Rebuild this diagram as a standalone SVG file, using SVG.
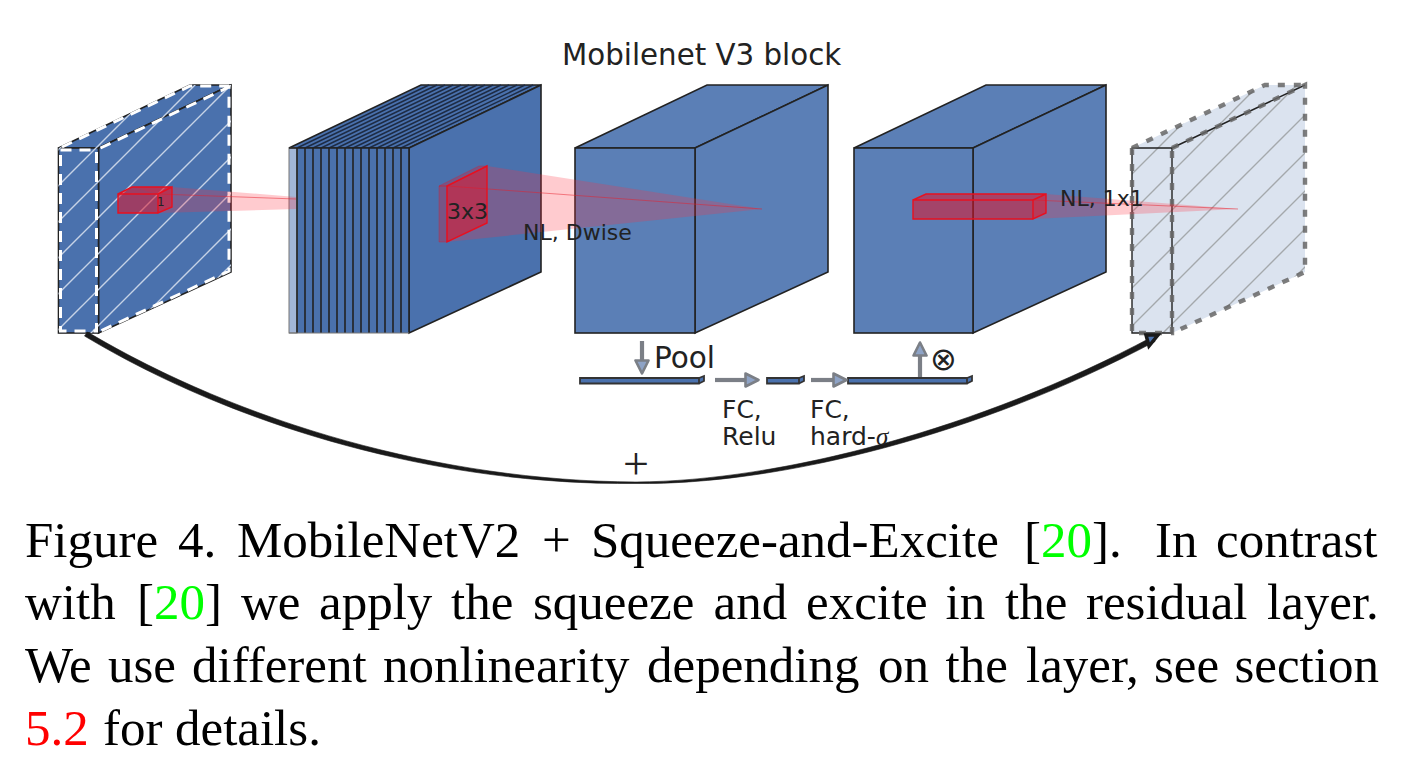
<svg xmlns="http://www.w3.org/2000/svg" width="1406" height="777" viewBox="0 0 1406 777">
<style>
.d{font-family:"DejaVu Sans",sans-serif;fill:#222}
.c{font-family:"Liberation Serif",serif;font-size:51px;fill:#000}
.edge{stroke:#222;stroke-width:1.6;stroke-linejoin:miter}
.blue{fill:#4a71ad}.mid{fill:#5b7fb6}.pale{fill:#dbe3ef}
.wd{fill:none;stroke:#fff;stroke-width:3;stroke-dasharray:11 8}
.gd{fill:none;stroke:#666;stroke-width:4.400;stroke-dasharray:7 9;stroke-opacity:.85}
.ray{fill:#ff3040;fill-opacity:.25;stroke:none}
.rl{fill:none;stroke:#e8202c;stroke-width:1;stroke-opacity:.5}
.rb{fill:#e0142a;fill-opacity:.55;stroke:#e8101f;stroke-width:1.4}
.ga{fill:none;stroke:#7b7f86;stroke-width:4.200}
.bar{fill:#4a71ad;stroke:#333;stroke-width:1.800}
</style>
<defs>
<pattern id="hw" patternUnits="userSpaceOnUse" width="36" height="36" patternTransform="translate(28 0)"><path d="M-4 40L40 -4M-4 4L4 -4M32 40L40 32" stroke="#c6d2e6" stroke-width="1.400"/></pattern>
<pattern id="hg" patternUnits="userSpaceOnUse" width="38" height="38" patternTransform="translate(14 0)"><path d="M-4 42L42 -4M-4 4L4 -4M34 42L42 34" stroke="#a4a8ac" stroke-width="1.400"/></pattern>
<marker id="gh" viewBox="0 0 16 16" refX="1" refY="8" markerWidth="16" markerHeight="16" markerUnits="userSpaceOnUse" orient="auto"><path d="M1.500 1.500L14.500 8L1.500 14.500Z" fill="#8ea3c6" stroke="#7b7f86" stroke-width="2.600" stroke-linejoin="round"/></marker>
</defs>
<rect width="1406" height="777" fill="#fff"/>

<g id="block-input">
<path class="blue edge" d="M58.500 148L190 85H231L98.500 148Z"/>
<path class="blue edge" d="M98.500 148L231 85V272L98.500 333Z"/>
<rect class="blue edge" x="58.500" y="148" width="40" height="185"/>
<path fill="url(#hw)" d="M58.500 148L190 85H231V272L98.500 333H58.500Z"/>
<path class="wd" d="M60.500 150H96.500V331H60.500ZM100.500 148L229 87V271L100.500 331M62 147L190 86H229"/>
</g>
<g id="block-expansion">
<path class="blue edge" d="M289 148L421 85H541L409 148Z"/>
<path fill="none" stroke="#1d2b44" stroke-width="1.400" d="M297 148L429 85M305 148L437 85M313 148L445 85M321 148L453 85M329 148L461 85M337 148L469 85M345 148L477 85M353 148L485 85M361 148L493 85M369 148L501 85M377 148L509 85M385 148L517 85M393 148L525 85M401 148L533 85"/>
<path class="blue edge" d="M409 148L541 85V272L409 333Z"/>
<rect x="289" y="148" width="120" height="185" class="blue"/>
<rect x="289" y="148" width="8" height="185" fill="#a3b7d8" stroke="#777" stroke-width="1"/>
<path fill="none" class="edge" d="M297 148V333M305 148V333M313 148V333M321 148V333M329 148V333M337 148V333M345 148V333M353 148V333M361 148V333M369 148V333M377 148V333M385 148V333M393 148V333M401 148V333M409 148V333M289 148H409"/>
<path fill="none" stroke="#777" stroke-width="1.200" d="M289 333H409"/>
</g>
<g id="block-dwise">
<path class="mid edge" d="M575 148L707 85H828L695 148Z"/>
<path class="mid edge" d="M695 148L828 85V272L695 333Z"/>
<rect class="mid edge" x="575" y="148" width="120" height="185"/>
</g>
<g id="block-se">
<path class="mid edge" d="M854 148L986 85H1106L973 148Z"/>
<path class="mid edge" d="M973 148L1106 85V272L973 333Z"/>
<rect class="mid edge" x="854" y="148" width="119" height="185"/>
</g>
<g id="block-output">
<path class="pale" d="M1132 148L1265 85H1305L1172 148Z"/>
<path class="pale" d="M1172 148L1305 85V272L1172 333Z"/>
<rect class="pale" x="1132" y="148" width="40" height="185"/>
<path fill="url(#hg)" d="M1132 148L1265 85H1305V272L1172 333H1132Z"/>
<path fill="none" stroke="#222" stroke-width="1.400" d="M1132 148H1172V333H1132ZM1172 148L1305 85"/>
<path class="gd" d="M1132 148V333H1172V148M1172 148L1305 85V272L1172 333M1132 148L1265 85H1305"/>
</g>

<g id="rays">
<path class="ray" d="M158 194L132 187H172L296 197V209L158 213Z"/>
<path class="rl" d="M158 194L296 199"/>
<path class="rb" d="M118 194H158V213H118ZM118 194L132 187H172L158 194ZM158 194L172 187V207L158 213Z"/>
<path class="ray" d="M447 186L487 166L762 209L447 242Z"/>
<path class="rl" d="M447 186L762 209"/>
<path class="rb" d="M447 186L487 166V223L447 242Z"/>
<path d="M439 186H447V242H439ZM439 186L479 166H487L447 186Z" fill="#e0142a" fill-opacity=".3" stroke="#e8101f" stroke-opacity=".3"/>
<path class="ray" d="M1033 200L1046 194L1238 209L1033 219Z"/>
<path class="rl" d="M1033 200L1238 209"/>
<path class="rb" d="M913 200H1033V219H913ZM913 200L926 194H1046L1033 200ZM1033 200L1046 194V213L1033 219Z"/>
</g>

<g id="bars">
<path class="bar" d="M580 378H699V383.500H580ZM699 378L704 376V381L699 383.500"/>
<path class="bar" d="M767 378H799V383.500H767ZM799 378L804 376V381L799 383.500"/>
<path class="bar" d="M848 378H967V383.500H848ZM967 378L972 376V381L967 383.500"/>
</g>

<g id="connectors">
<path d="M87.500 332C241 423 440 481 636 482C780 481 980 429 1152 337L1155 341.500C980 434.500 780 485 636 483.500C440 485.500 238 428 84.500 336Z" fill="#1a1a1a" stroke="#1a1a1a" stroke-width=".6"/>
<path d="M1146 335H1158L1149 346Z" fill="#4a71ad" stroke="#1a1a1a" stroke-width="3.500"/>
<path class="ga" d="M642 341V360" marker-end="url(#gh)"/>
<path class="ga" d="M715 380H745" marker-end="url(#gh)"/>
<path class="ga" d="M811 380H833" marker-end="url(#gh)"/>
<path class="ga" d="M920 377V356" marker-end="url(#gh)"/>
</g>

<g id="labels">
<text class="d" x="562" y="65" font-size="29.300">Mobilenet V3 block</text>
<text class="d" x="157" y="206" font-size="12">1</text>
<text class="d" x="447" y="219" font-size="22">3x3</text>
<text class="d" x="523" y="240" font-size="22">NL, Dwise</text>
<text class="d" x="1060" y="206" font-size="22">NL, 1x1</text>
<text class="d" x="654" y="368" font-size="29.500">Pool</text>
<text class="d" x="722" y="418" font-size="25">FC,</text>
<text class="d" x="722" y="445" font-size="25">Relu</text>
<text class="d" x="810" y="418" font-size="25">FC,</text>
<text class="d" x="810" y="445" font-size="25">hard-<tspan font-family="Liberation Serif,serif" font-style="italic">σ</tspan></text>
<text class="d" x="930" y="370" font-size="32" font-weight="200">⊗</text>
<text x="636" y="479" font-size="46" text-anchor="middle" font-family="Liberation Serif,serif" fill="#222">+</text>
</g>

<g id="caption">
<text class="c" y="557"><tspan x="25">Figure</tspan><tspan x="178">4.</tspan><tspan x="237">MobileNetV2</tspan><tspan x="542">+</tspan><tspan x="591">Squeeze-and-Excite</tspan><tspan x="1024">[<tspan fill="#00ff00">20</tspan>].</tspan><tspan x="1155">In</tspan><tspan x="1216">contrast</tspan></text>
<text class="c" y="619"><tspan x="25">with</tspan><tspan x="137">[<tspan fill="#00ff00">20</tspan>]</tspan><tspan x="241">we</tspan><tspan x="319">apply</tspan><tspan x="451">the</tspan><tspan x="533">squeeze</tspan><tspan x="713.500">and</tspan><tspan x="806">excite</tspan><tspan x="945.500">in</tspan><tspan x="1005">the</tspan><tspan x="1086">residual</tspan><tspan x="1267">layer.</tspan></text>
<text class="c" y="682"><tspan x="25">We</tspan><tspan x="108">use</tspan><tspan x="192">different</tspan><tspan x="383">nonlinearity</tspan><tspan x="647">depending</tspan><tspan x="878">on</tspan><tspan x="945.500">the</tspan><tspan x="1026">layer,</tspan><tspan x="1154">see</tspan><tspan x="1234.500">section</tspan></text>
<text class="c" y="745"><tspan x="25" fill="#ff0000">5.2</tspan><tspan x="103">for</tspan><tspan x="175">details.</tspan></text>
</g>
</svg>
